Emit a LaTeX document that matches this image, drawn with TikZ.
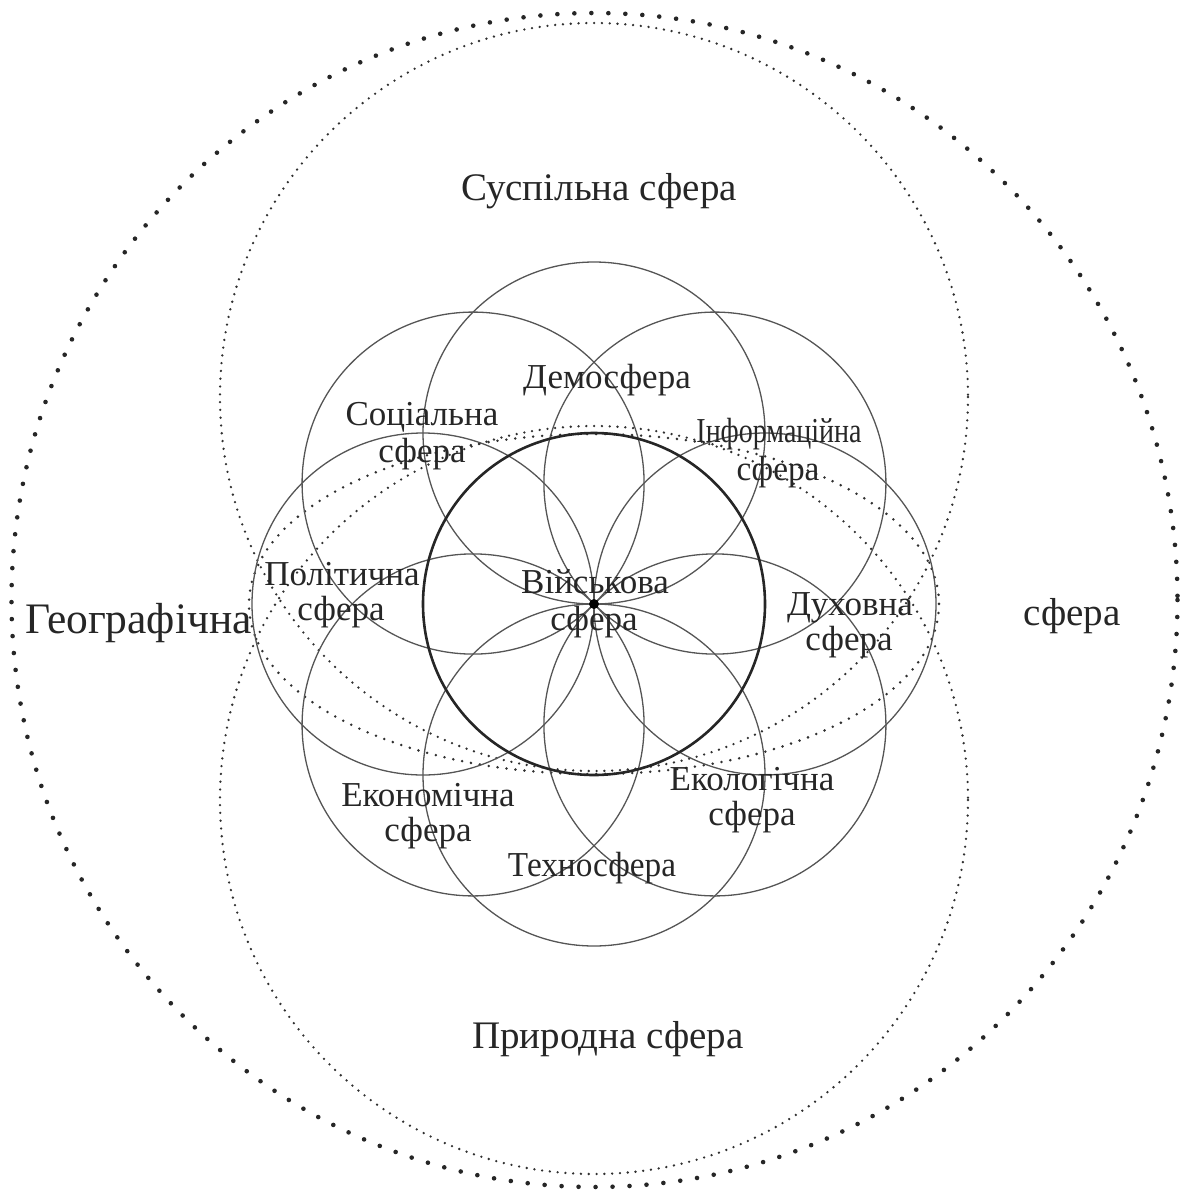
\documentclass[tikz,border=0pt]{standalone}
\usepackage{fontspec}
\setmainfont{Liberation Serif}
\usetikzlibrary{calc}
\definecolor{linegray}{HTML}{555555}
\definecolor{dotcol}{HTML}{303030}
\definecolor{txtcol}{HTML}{262626}
\begin{document}
\begin{tikzpicture}[x=1pt,y=-1pt,
  petal/.style={draw=linegray, line width=1.3pt},
  boldring/.style={draw=black!85, line width=2.6pt},
  bigdots/.style={draw=black!85, line width=4.6pt, line cap=round, dash pattern=on 0pt off 17pt},
  finedots/.style={draw=dotcol, line width=2.6pt, line cap=round, dash pattern=on 0pt off 7.8pt},
  elldots/.style={draw=dotcol, line width=2.8pt, line cap=round, dash pattern=on 0pt off 9pt},
  lbl/.style={font=\fontsize{35}{40}\selectfont, text=txtcol, inner sep=0pt, anchor=base},
  mainlbl/.style={font=\fontsize{39}{44}\selectfont, text=txtcol, inner sep=0pt, anchor=base},
  geolbl/.style={font=\fontsize{43.5}{50}\selectfont, text=txtcol, inner sep=0pt, anchor=base west}]
\useasboundingbox (0,0) rectangle (1179,1192);
\coordinate (O) at (594,604);
\coordinate (Oout) at (594.5,600);
\coordinate (Oup) at (594,397);
\coordinate (Olow) at (594,800);
% outer dotted ring
\draw[bigdots] (Oout) ellipse [x radius=583, y radius=587];
% social and natural spheres
\draw[finedots] (Oup) circle [radius=374];
\draw[finedots] (Olow) circle [radius=374];
% middle dotted ellipse
\draw[elldots] (O) ellipse [x radius=345, y radius=170];
% eight petal circles
\foreach \a in {0,45,...,315}
  \draw[petal] ($(O)+(\a:171)$) circle [radius=171];
% military sphere
\draw[boldring] (O) circle [radius=171];
\fill[black] (O) circle [radius=5];
% labels
\node[mainlbl] (suspil) at (599,200) {Суспільна сфера};
\node[mainlbl] (pryrod) at (608,1048) {Природна сфера};
\node[geolbl] (geo) at (25,633) {Географічна};
\node[mainlbl] (geo2) at (1072,625) {сфера};
\node[lbl] (demo) at (607,388) {Демосфера};
\node[lbl] (soc1) at (422,425) {Соціальна};
\node[lbl] (soc2) at (422,462) {сфера};
\node[lbl, xscale=0.8] (inf1) at (779,442) {Інформаційна};
\node[lbl, xscale=0.95] (inf2) at (778,480) {сфера};
\node[lbl] (pol1) at (342,585) {Політична};
\node[lbl] (pol2) at (341,620) {сфера};
\node[lbl] (mil1) at (595,593) {Військова};
\node[lbl] (mil2) at (594,630) {сфера};
\node[lbl] (duh1) at (850,615) {Духовна};
\node[lbl] (duh2) at (849,650) {сфера};
\node[lbl] (eco1) at (428,806) {Економічна};
\node[lbl] (eco2) at (428,841) {сфера};
\node[lbl] (ekl1) at (752,790) {Екологічна};
\node[lbl] (ekl2) at (752,825) {сфера};
\node[lbl, xscale=0.95] (tech) at (592,876) {Техносфера};
\end{tikzpicture}
\end{document}
